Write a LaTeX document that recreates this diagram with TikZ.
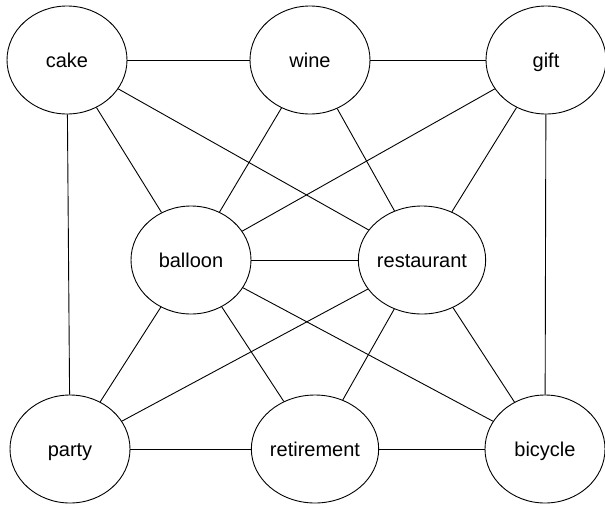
\documentclass[tikz,border=0pt]{standalone}
\usepackage{fontspec}
\setmainfont{Liberation Sans}
\usetikzlibrary{shapes.geometric}

\begin{document}
\begin{tikzpicture}[x=1pt,y=-1pt,semithick,line width=0.9pt,
                    word/.style={draw,ellipse,minimum width=120pt,minimum height=108pt,
                                 inner sep=0pt,text height=15pt,text depth=1pt,
                                 font=\fontsize{20}{24}\selectfont}]
 \useasboundingbox (0,0) rectangle (605,504);

 \node[word] (cake)       at (67,60)   {cake};
 \node[word] (wine)       at (310,60)  {wine};
 \node[word] (gift)       at (546,60)  {gift};
 \node[word] (balloon)    at (191,260) {balloon};
 \node[word] (restaurant) at (422,260) {restaurant};
 \node[word] (party)      at (70,449)  {party};
 \node[word] (retirement) at (315,449) {retirement};
 \node[word] (bicycle)    at (545,449) {bicycle};

 \path (cake) edge (wine)
              edge (balloon)
              edge (restaurant)
              edge (party)
       (wine) edge (gift)
              edge (balloon)
              edge (restaurant)
       (gift) edge (balloon)
              edge (restaurant)
              edge (bicycle)
       (balloon) edge (restaurant)
                 edge (party)
                 edge (retirement)
                 edge (bicycle)
       (restaurant) edge (party)
                    edge (retirement)
                    edge (bicycle)
       (party) edge (retirement)
       (retirement) edge (bicycle)
       ;

\end{tikzpicture}
\end{document}
